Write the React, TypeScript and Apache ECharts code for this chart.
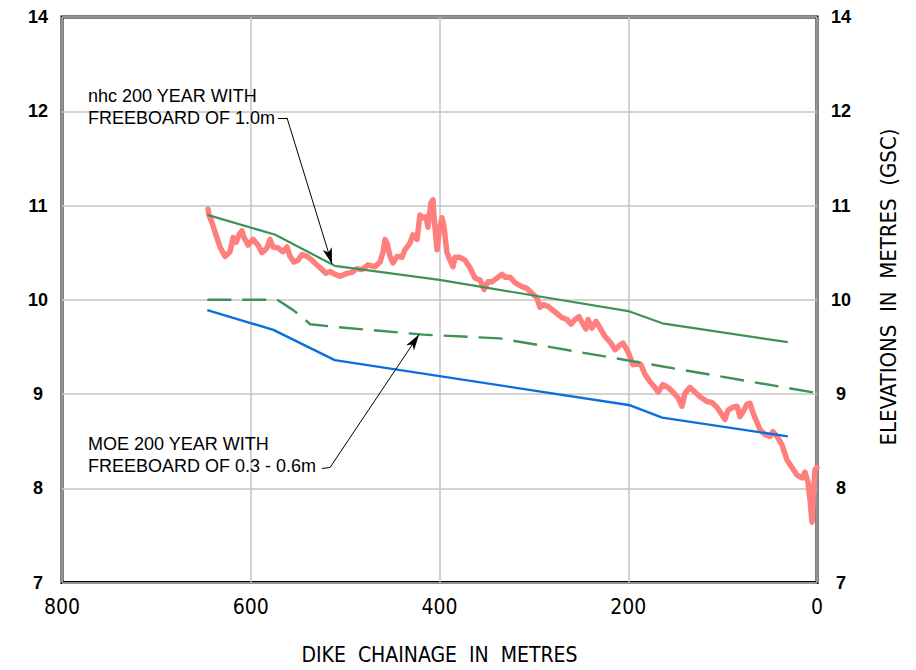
import React, { useEffect, useRef } from 'react';
import * as echarts from 'echarts';

// y axis is drawn on an evenly spaced scale 7..13, with the top tick labelled "14"
const yTickLabels = ['7', '8', '9', '10', '11', '12', '14'];
const xTickValues = [0, 200, 400, 600, 800];

// measured dike crest profile (red)
const redX = [645.3,644.2,641.1,637.9,632.6,627.2,622.0,618.7,615.5,612.4,609.3,607.1,602.9,597.6,592.3,588.1,582.8,579.6,576.4,571.1,565.8,561.6,558.4,554.2,549.9,545.7,540.4,535.1,529.8,524.5,520.3,516.1,510.7,505.4,498.0,492.7,487.4,482.1,475.8,468.3,463.0,459.9,457.7,455.6,452.4,449.3,445.0,439.7,436.6,431.3,428.1,423.8,420.7,417.5,414.3,412.2,409.0,406.9,405.8,402.6,400.5,397.4,395.2,392.1,388.9,385.7,383.6,378.3,373.0,367.7,362.4,357.1,352.8,348.6,344.4,339.1,333.8,330.6,325.3,320.0,312.6,307.3,302.0,296.7,293.5,290.3,285.0,277.6,270.2,264.9,260.7,256.4,252.2,247.9,244.8,242.6,238.4,234.2,229.9,224.6,218.3,214.0,208.7,205.6,200.3,195.0,190.7,186.5,182.3,177.0,171.7,168.5,163.2,157.9,152.6,147.3,143.0,139.9,134.6,129.3,124.0,116.6,111.3,106.0,100.7,97.5,94.3,89.0,84.8,81.6,78.4,74.2,71.0,67.8,63.6,60.4,55.1,49.8,46.6,42.4,37.1,31.8,26.5,21.2,15.9,12.7,9.5,7.4,5.3,4.2,2.1,0];
const redY = [10.96,10.90,10.82,10.72,10.56,10.46,10.51,10.66,10.61,10.69,10.73,10.66,10.58,10.64,10.58,10.50,10.55,10.64,10.56,10.55,10.51,10.56,10.46,10.40,10.42,10.48,10.46,10.42,10.37,10.32,10.28,10.30,10.27,10.25,10.28,10.29,10.33,10.32,10.37,10.35,10.40,10.50,10.64,10.60,10.46,10.39,10.46,10.45,10.53,10.60,10.69,10.64,10.90,10.87,10.88,10.77,11.03,11.06,10.88,10.53,10.71,10.87,10.77,10.50,10.42,10.35,10.45,10.45,10.42,10.34,10.23,10.21,10.11,10.19,10.19,10.23,10.27,10.24,10.24,10.18,10.14,10.12,10.07,10.02,9.92,9.95,9.93,9.87,9.81,9.79,9.74,9.79,9.82,9.74,9.69,9.79,9.70,9.77,9.70,9.61,9.54,9.47,9.52,9.54,9.45,9.31,9.33,9.31,9.21,9.13,9.07,9.02,9.10,9.07,9.02,8.96,8.87,9.01,9.07,9.02,8.97,8.92,8.91,8.86,8.78,8.73,8.83,8.86,8.87,8.76,8.81,8.89,8.90,8.80,8.70,8.62,8.57,8.55,8.60,8.55,8.46,8.30,8.22,8.14,8.11,8.17,8.06,7.88,7.64,7.88,8.20,8.22];

// nhc 200 year with freeboard of 1.0 m (green solid)
const nhcX = [646, 574, 511, 400, 200, 164, 31];
const nhcY = [10.90, 10.69, 10.36, 10.21, 9.88, 9.75, 9.55];

// MOE 200 year with freeboard of 0.3 - 0.6 m (green dashed)
const moeX = [646, 572, 555, 545, 537, 509, 417, 336, 0];
const moeY = [10.00, 10.00, 9.89, 9.81, 9.74, 9.71, 9.63, 9.59, 9.01];

// 200 year water level (blue)
const blueX = [646, 576, 511, 198, 164, 31];
const blueY = [9.89, 9.68, 9.36, 8.88, 8.75, 8.55];

// annotation leaders (data coordinates): dash start, kink, arrow tip
const nhcLeader = [[571.1, 11.93], [561.6, 11.93], [513.9, 10.38]];
const moeLeader = [[524.5, 8.21], [516.0, 8.22], [421.7, 9.63]];

const nhcText = ['nhc 200 YEAR WITH', 'FREEBOARD OF 1.0m'];
const moeText = ['MOE 200 YEAR WITH', 'FREEBOARD OF 0.3 - 0.6m'];
const xTitle = 'DIKE  CHAINAGE  IN  METRES';
const yTitle = 'ELEVATIONS  IN  METRES  (GSC)';

const zip = (xs: number[], ys: number[]) => xs.map((x, i) => [x, ys[i]]);

const GREEN = '#3f9256';
const BLUE = '#0a6fde';
const RED = '#ff7e7e';
const GRID = '#c4c4c4';
const NARROW = '"Liberation Sans Narrow", "DejaVu Sans Condensed", sans-serif';

const leaderData = (pts: number[][]) => [
  [{ coord: pts[0], symbol: 'none' }, { coord: pts[1], symbol: 'none' }],
  [{ coord: pts[1], symbol: 'none' }, { coord: pts[2], symbol: 'arrow', symbolSize: [7, 16] }],
];

export default function App() {
  const ref = useRef<HTMLDivElement>(null);
  useEffect(() => {
    const chart = echarts.init(ref.current!, null, { renderer: 'svg' });
    const yLabel = (v: number) => yTickLabels[Math.round(v) - 7] ?? '';
    const yLabelStyle = {
      formatter: yLabel,
      align: 'center',
      margin: 24,
      fontSize: 18,
      fontWeight: 'bold',
      color: '#000',
      fontFamily: '"Liberation Sans", Arial, sans-serif',
    };
    chart.setOption({
      animation: false,
      backgroundColor: '#ffffff',
      grid: {
        left: 62, right: 99, top: 17, bottom: 87,
        show: true, borderColor: '#000', borderWidth: 3, backgroundColor: 'transparent',
      },
      xAxis: {
        type: 'value', min: 0, max: 800, interval: 200, inverse: true,
        name: xTitle, nameLocation: 'middle', nameGap: 72,
        nameTextStyle: { fontSize: 21, color: '#000', fontFamily: NARROW, verticalAlign: 'middle' },
        axisLine: { show: false }, axisTick: { show: false },
        axisLabel: {
          margin: 14, fontSize: 21, color: '#000', fontFamily: NARROW,
          formatter: (v: number) => (xTickValues.includes(v) ? String(v) : ''),
        },
        splitLine: { show: true, lineStyle: { color: GRID, width: 1.5 } },
      },
      yAxis: [
        {
          type: 'value', min: 7, max: 13, interval: 1, position: 'left',
          axisLine: { show: false }, axisTick: { show: false },
          axisLabel: yLabelStyle,
          splitLine: { show: true, lineStyle: { color: GRID, width: 1.5 } },
        },
        {
          type: 'value', min: 7, max: 13, interval: 1, position: 'right',
          axisLine: { show: false }, axisTick: { show: false },
          axisLabel: yLabelStyle,
          splitLine: { show: false },
        },
      ],
      series: [
        {
          name: 'Dike crest', type: 'line', data: zip(redX, redY), symbol: 'none', silent: true,
          lineStyle: { color: RED, width: 5.5, join: 'round', cap: 'round' }, z: 2,
        },
        {
          name: 'nhc 200 year', type: 'line', data: zip(nhcX, nhcY), symbol: 'none', silent: true,
          lineStyle: { color: GREEN, width: 2.2 }, z: 3,
          markLine: {
            silent: true, animation: false, symbol: ['none', 'none'],
            label: { show: false }, emphasis: { disabled: true },
            lineStyle: { color: '#000', width: 1, type: 'solid' },
            itemStyle: { color: '#000' },
            data: [...leaderData(nhcLeader), ...leaderData(moeLeader)],
          },
        },
        {
          name: 'MOE 200 year', type: 'line', data: zip(moeX, moeY), symbol: 'none', silent: true,
          lineStyle: { color: GREEN, width: 2.4, type: [24, 11] }, z: 3,
        },
        {
          name: '200 year level', type: 'line', data: zip(blueX, blueY), symbol: 'none', silent: true,
          lineStyle: { color: BLUE, width: 2.4 }, z: 3,
        },
      ],
      graphic: [
        { type: 'text', left: 88, top: 85, z: 10, style: { text: nhcText.join('\n'), font: '18px "Liberation Sans", Arial, sans-serif', fill: '#000', lineHeight: 22 } },
        { type: 'text', left: 88, top: 433, z: 10, style: { text: moeText.join('\n'), font: '18px "Liberation Sans", Arial, sans-serif', fill: '#000', lineHeight: 22 } },
        {
          type: 'text', x: 888, y: 287, rotation: Math.PI / 2, z: 10,
          style: { text: yTitle, font: `22px ${NARROW}`, fill: '#000', align: 'center', verticalAlign: 'middle' },
        },
      ],
    });
    return () => chart.dispose();
  }, []);
  return <div ref={ref} style={{ position: 'fixed', left: 0, top: 0, width: 916, height: 670 }} />;
}
